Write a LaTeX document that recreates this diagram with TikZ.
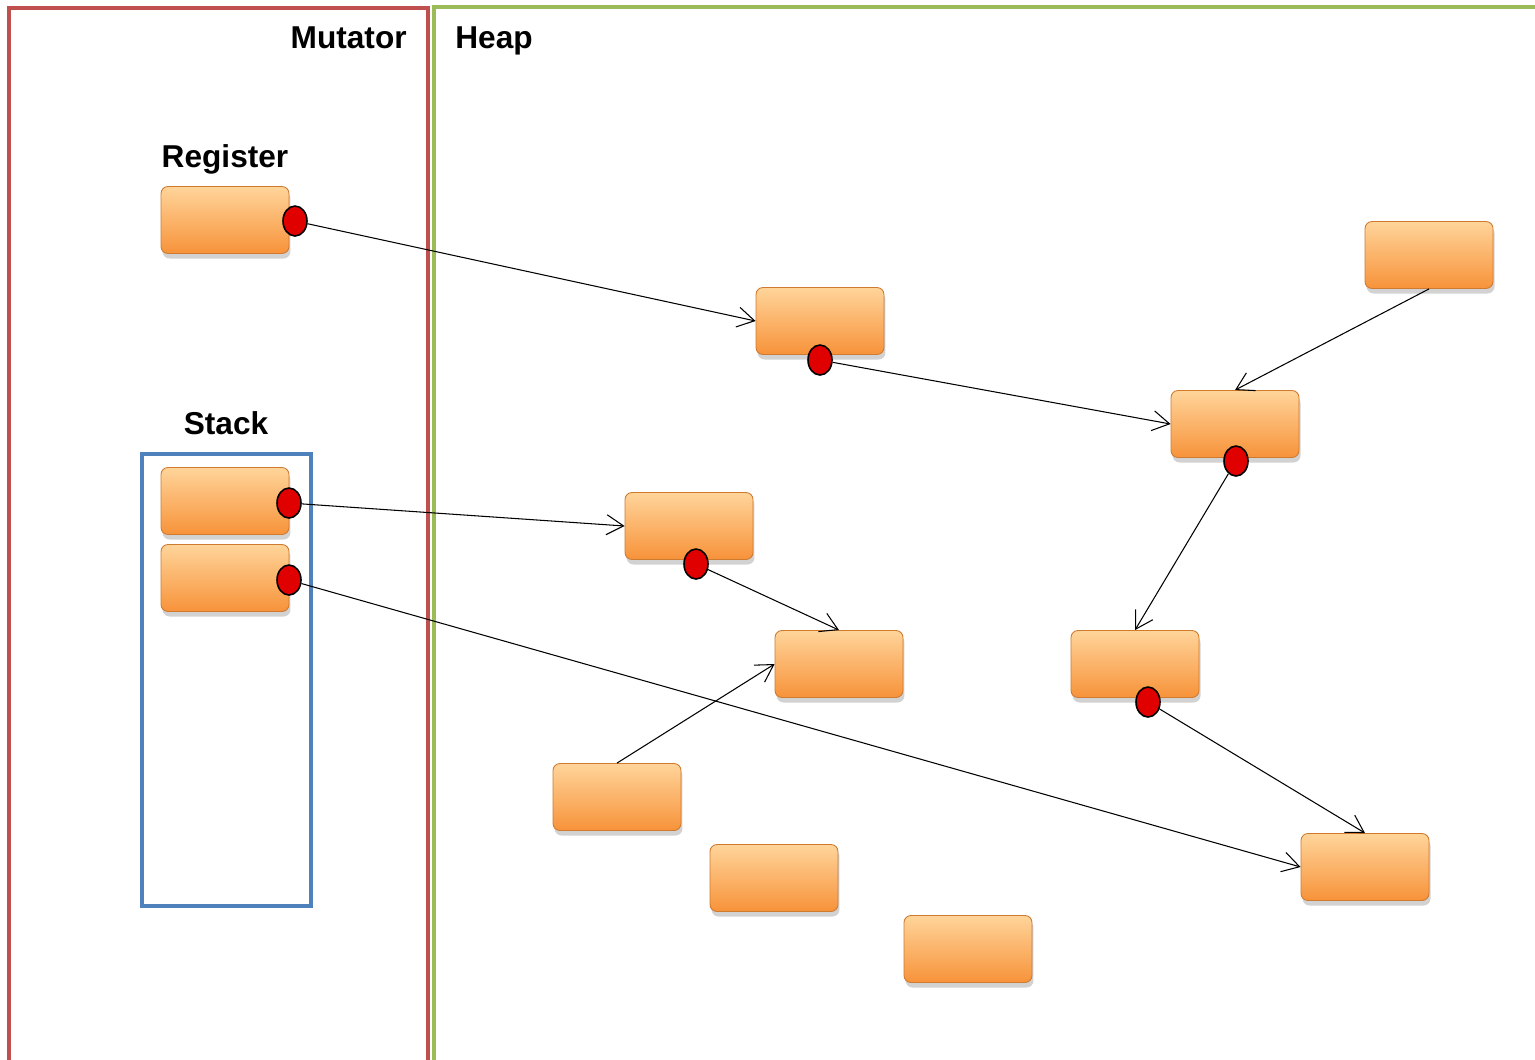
\documentclass[tikz,border=0pt]{standalone}
\usepackage{fontspec}
\setmainfont{Liberation Sans}
\usetikzlibrary{arrows.meta,shapes.geometric,shadows}
\definecolor{mutred}{HTML}{C0504D}
\definecolor{heapgreen}{HTML}{9BBB59}
\definecolor{stackblue}{HTML}{4F81BD}
\definecolor{objtop}{HTML}{FFD49A}
\definecolor{objbot}{HTML}{F7933A}
\definecolor{objline}{HTML}{D07A30}
\definecolor{ptrred}{HTML}{E00000}
\begin{document}
\begin{tikzpicture}[x=0.02cm,y=-0.02cm,
  obj/.style={rectangle,rounded corners=0.14cm,minimum width=2.56cm,minimum height=1.34cm,
    top color=objtop,bottom color=objbot,draw=objline,line width=0.5pt,
    drop shadow={shadow xshift=0.3mm,shadow yshift=-1mm,opacity=0.35}},
  ptr/.style={ellipse,minimum width=0.48cm,minimum height=0.6cm,inner sep=0pt,
    fill=ptrred,draw=black,line width=0.9pt},
  ref/.style={-{Straight Barb[length=3.4mm,width=4mm]},line width=0.6pt},
  title/.style={font=\fontsize{18}{20}\selectfont\bfseries,inner sep=0pt}]
\clip (0,0) rectangle (1535,1059);
\fill[white] (0,0) rectangle (1535,1059);
\draw[mutred,line width=2.3pt] (9,1070) -- (9,8) -- (428,8) -- (428,1070);
\draw[heapgreen,line width=2.3pt] (434,1070) -- (434,7) -- (1545,7);
\draw[stackblue,line width=2pt] (142,454) rectangle (311,906);
\node[title,anchor=base east] (mutlbl) at (407,48) {Mutator};
\node[title,anchor=base west] (heaplbl) at (455,48) {Heap};
\node[title,anchor=base] (reglbl) at (225,167) {Register};
\node[title,anchor=base] (stacklbl) at (226,434) {Stack};
\node[obj] (reg) at (225,220) {};
\node[obj] (st1) at (225,501) {};
\node[obj] (st2) at (225,578) {};
\node[obj] (a) at (820,321) {};
\node[obj] (b) at (1429,255) {};
\node[obj] (c) at (1235,424) {};
\node[obj] (d) at (689,526) {};
\node[obj] (e) at (839,664) {};
\node[obj] (f) at (1135,664) {};
\node[obj] (g) at (617,797) {};
\node[obj] (h) at (774,878) {};
\node[obj] (i) at (968,949) {};
\node[obj] (j) at (1365,867) {};
\node[ptr] (regp) at (295,221) {};
\node[ptr] (st1p) at (289,503) {};
\node[ptr] (st2p) at (289,580) {};
\node[ptr] (ap) at (820,360) {};
\node[ptr] (cp) at (1236,461) {};
\node[ptr] (dp) at (696,564) {};
\node[ptr] (fp) at (1148,702) {};
\draw[ref] (regp) -- (a.west);
\draw[ref] (ap) -- (c.west);
\draw[ref] (b.south) -- (c.north);
\draw[ref] (cp) -- (f.north);
\draw[ref] (st1p) -- (d.west);
\draw[ref] (dp) -- (e.north);
\draw[ref] (g.north) -- (e.west);
\draw[ref] (st2p) -- (j.west);
\draw[ref] (fp) -- (j.north);
\end{tikzpicture}
\end{document}
